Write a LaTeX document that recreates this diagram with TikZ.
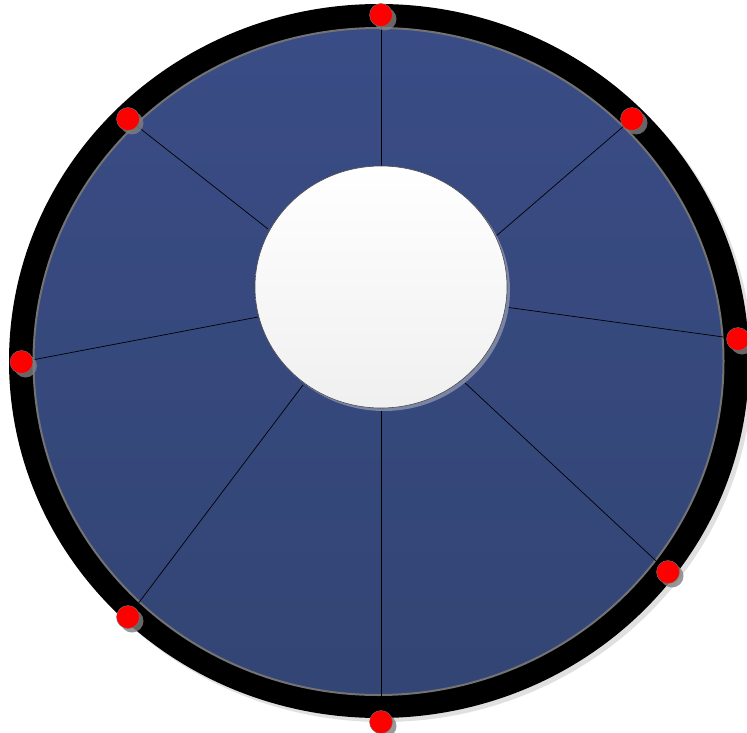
\documentclass[tikz,border=0pt]{standalone}
\usetikzlibrary{shapes.geometric}
\definecolor{diskblue}{HTML}{3A4C85}
\definecolor{diskblue2}{HTML}{324574}
\definecolor{hubshadow}{HTML}{7A84A3}
\tikzset{
  spoke/.style={draw=black, line width=0.7pt},
  reddot/.style={circle, fill=red, draw=black!55, line width=0.4pt, minimum size=23pt, inner sep=0pt},
  dotshadow/.style={circle, fill=black!50, opacity=0.8, minimum size=23pt, inner sep=0pt},
}
\begin{document}
\begin{tikzpicture}[x=1pt,y=-1pt]
\useasboundingbox (0,0) rectangle (747,733);
\fill[white] (0,0) rectangle (747,733);
% outer ring with soft shadow
\fill[black!12] (383,365) ellipse [x radius=370, y radius=357];
\fill[black] (379,361) ellipse [x radius=370, y radius=357];
% blue disk
\shade[top color=diskblue, bottom color=diskblue2, draw=black!55, line width=2pt]
  (378.5,361.5) ellipse [x radius=345, y radius=333.5];
% inner hub coordinates
\coordinate (i1) at (381,166);
\coordinate (i2) at (495,237);
\coordinate (i3) at (505,307);
\coordinate (i4) at (463,381);
\coordinate (i5) at (381,408);
\coordinate (i6) at (303,385);
\coordinate (i7) at (258,317);
\coordinate (i8) at (268,229);
% dot positions
\coordinate (p1) at (381,15);
\coordinate (p2) at (632,119);
\coordinate (p3) at (738,339);
\coordinate (p4) at (668,572);
\coordinate (p5) at (381,722);
\coordinate (p6) at (128,617);
\coordinate (p7) at (21.5,362);
\coordinate (p8) at (128,119);
% spokes
\foreach \k in {1,...,8} { \draw[spoke] (i\k) -- (p\k); }
% hub
\fill[hubshadow] (384,290) ellipse [x radius=126, y radius=121];
\shade[top color=white, bottom color=black!6, draw=black!70, line width=0.6pt]
  (381,287) ellipse [x radius=126, y radius=121];
% red dots with shadows
\foreach \k in {1,...,8} {
  \node[dotshadow] at ([xshift=4pt,yshift=-4pt]p\k) {};
  \node[reddot] (d\k) at (p\k) {};
}
\end{tikzpicture}
\end{document}
